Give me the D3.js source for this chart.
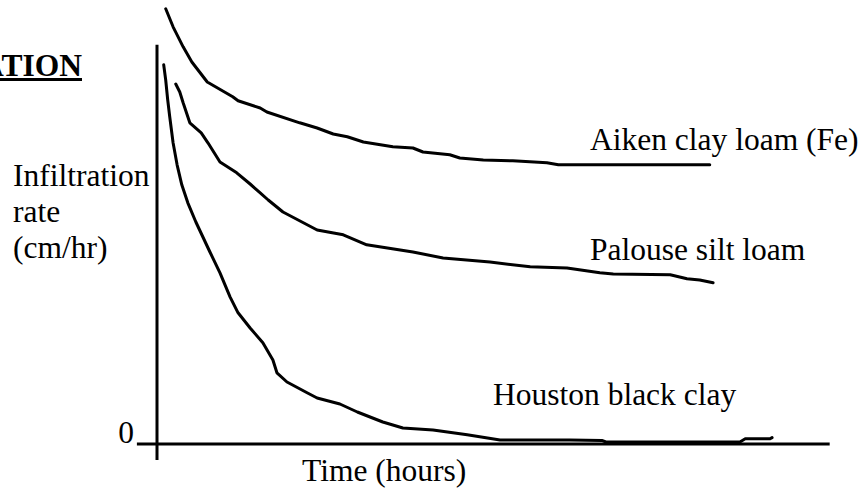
<!DOCTYPE html>
<html>
<head>
<meta charset="utf-8">
<script src="https://cdn.jsdelivr.net/npm/d3@7"></script>
<style>
  html, body { margin: 0; padding: 0; background: #fff; }
  svg { display: block; }
  text { font-family: "Liberation Serif", "Times New Roman", serif; fill: #000; }
</style>
</head>
<body>
<div id="chart"></div>
<script>
// Sketch values (time and rate in arbitrary units, 0..100)
const aikenTime = [1.3, 2.4, 3.9, 5.2, 7.5, 11.3, 12.1, 15.4, 16.4, 21.3, 23.9, 26.3, 28.4, 30.8, 35.2, 38.2, 39.7, 43.7, 45.2, 48.7, 53.1, 58.2, 59.9, 82.5];
const aikenRate = [108.8, 104.3, 99.3, 95.5, 90.5, 86.8, 85.8, 84, 83, 80.3, 79, 77.5, 76.8, 75.5, 74.3, 74, 73, 72.3, 71.5, 71, 70.8, 70.3, 69.8, 69.8];

const palouseTime = [2.8, 3.4, 3.9, 4.9, 6.6, 7.6, 9.4, 11.9, 13.9, 15.4, 16.6, 18.8, 23.9, 27.8, 31.3, 36.3, 38.2, 42.7, 49.7, 55.7, 61.2, 66.1, 68.1, 76.6, 79.1, 81.0, 83.0];
const palouseRate = [90, 88, 85.3, 80.3, 77.8, 75.3, 70.5, 67.8, 65, 62.8, 61, 58, 53.5, 52.3, 49.8, 48.5, 48, 46.5, 45.5, 44.3, 44, 42.8, 42.5, 42.3, 41.3, 41, 40.3];

const houstonTime = [1.0, 1.3, 1.6, 1.9, 2.4, 3.0, 3.7, 4.6, 5.8, 7.9, 9.4, 10.9, 12.1, 13.9, 15.8, 17.3, 17.9, 19.4, 22.4, 23.9, 27.3, 29.9, 33.7, 36.7, 41.2, 46.3, 51.2, 61.6, 66.4, 67.0, 87.0, 87.8, 91.5, 91.8];
const houstonRate = [94.8, 91, 86, 81.8, 75.3, 69.8, 64.8, 60.3, 55.5, 48, 42.8, 36.8, 32.8, 29, 25.3, 21, 17.8, 15.5, 12.8, 11.5, 10, 8, 5.5, 4, 3.5, 2.3, 1, 1, 0.9, 0.5, 0.5, 1.3, 1.3, 1.6];

const seriesNames = ['Aiken clay loam (Fe)', 'Palouse silt loam', 'Houston black clay'];
const yLabelLines = ['Infiltration', 'rate', '(cm/hr)'];
const xLabel = 'Time (hours)';
const yTickLabels = ['0'];
const xAxisExtent = [-3, 100.4];
const yAxisExtent = [-4, 99.8];

const W = 865, H = 491;
const svg = d3.select('#chart').append('svg')
  .attr('width', W).attr('height', H);

const x = d3.scaleLinear().domain([0, 100]).range([157, 827]);
const y = d3.scaleLinear().domain([0, 100]).range([444, 44]);

const zip = (ts, rs) => ts.map((t, i) => [t, rs[i]]);
const series = [
  { name: seriesNames[0], pts: zip(aikenTime, aikenRate), lx: 590, ly: 150 },
  { name: seriesNames[1], pts: zip(palouseTime, palouseRate), lx: 590, ly: 260 },
  { name: seriesNames[2], pts: zip(houstonTime, houstonRate), lx: 493, ly: 405 }
];

// axes (plain strokes, no ticks)
svg.append('line')
  .attr('x1', x(0)).attr('x2', x(0))
  .attr('y1', y(yAxisExtent[1])).attr('y2', y(yAxisExtent[0]))
  .attr('stroke', '#000').attr('stroke-width', 3);
svg.append('line')
  .attr('x1', x(xAxisExtent[0])).attr('x2', x(xAxisExtent[1]))
  .attr('y1', y(0)).attr('y2', y(0))
  .attr('stroke', '#000').attr('stroke-width', 3);

const line = d3.line().x(d => x(d[0])).y(d => y(d[1]));

svg.selectAll('.curve')
  .data(series)
  .join('path')
  .attr('class', 'curve')
  .attr('d', d => line(d.pts))
  .attr('fill', 'none')
  .attr('stroke', '#000')
  .attr('stroke-width', 3)
  .attr('stroke-linejoin', 'round')
  .attr('stroke-linecap', 'round');

svg.selectAll('.slabel')
  .data(series)
  .join('text')
  .attr('class', 'slabel')
  .attr('x', d => d.lx).attr('y', d => d.ly)
  .attr('font-size', '31.5px')
  .text(d => d.name);

// y label, three lines
svg.selectAll('.ylab')
  .data(yLabelLines)
  .join('text')
  .attr('class', 'ylab')
  .attr('x', 13)
  .attr('y', (d, i) => 186 + i * 36)
  .attr('font-size', '31.5px')
  .text(d => d);

svg.append('text')
  .attr('x', 302).attr('y', 481)
  .attr('font-size', '31.5px')
  .text(xLabel);

svg.append('text')
  .attr('x', 134).attr('y', y(0) - 1)
  .attr('text-anchor', 'end')
  .attr('font-size', '31.5px')
  .text(yTickLabels[0]);

// heading cut off by the left edge
svg.append('text')
  .attr('x', 82).attr('y', 76)
  .attr('text-anchor', 'end')
  .attr('font-size', '31.5px')
  .attr('font-weight', 'bold')
  .text('ATION');
svg.append('line')
  .attr('x1', 0).attr('x2', 82)
  .attr('y1', 79.5).attr('y2', 79.5)
  .attr('stroke', '#000').attr('stroke-width', 3);
</script>
</body>
</html>
